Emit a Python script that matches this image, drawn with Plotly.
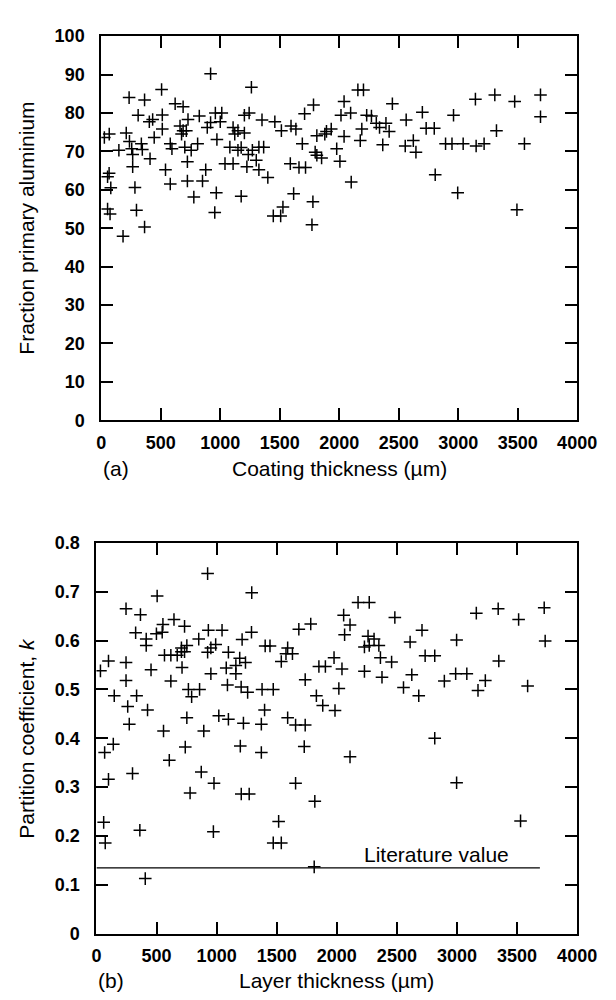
import plotly.graph_objects as go

# ---------------- Data (a): fraction primary aluminium vs coating thickness
coat_x = [919, 1262, 507, 234, 364, 621, 688, 1784, 1709, 310, 513, 824, 959, 1013, 1243, 1203,
          1351, 1459, 1595, 1636, 1514, 404, 432, 729, 891, 919, 1000, 1108, 1149, 1203, 1122,
          662, 688, 715, 675, 513, 26, 67, 210, 445, 237, 337, 580, 702, 810, 972, 1081, 1176,
          1270, 1325, 1365, 1690, 1812, 1879, 1798, 148,
          256, 345, 410, 264, 66, 53, 80, 264, 283, 53, 74, 296, 364, 183, 540, 580, 724, 724,
          778, 878, 851, 967, 954, 1040, 1108, 1224, 1303, 1325, 1400, 1176, 1589, 1662, 1717,
          1617, 1446, 1508, 1527, 1779, 1771, 1812, 594, 756, 1149, 1236,
          1852, 2006, 2101, 2645, 2807, 2996, 3494,
          2157, 2204, 2041, 2447, 3145, 3308, 3475, 3692, 3692, 2015, 2096, 2231, 2271, 2563,
          2699, 2961, 3322, 2312, 2393, 2339, 2420, 2190, 1893, 1933, 2041, 2177, 2366, 2555,
          2623, 2731, 2799, 2894, 2948, 3042, 3151, 3218, 3557, 1979]
frac_y = [90.2, 86.7, 86.1, 84.0, 83.4, 82.4, 81.6, 82.1, 79.8, 79.4, 79.5, 79.2, 80.0, 80.0, 80.0, 79.4,
          78.2, 77.7, 76.6, 75.8, 75.4, 77.7, 78.3, 78.3, 76.2, 77.5, 77.7, 76.2, 75.4, 74.8, 74.5,
          76.6, 75.4, 75.4, 74.5, 75.8, 73.6, 74.5, 74.8, 73.6, 72.6, 72.0, 72.0, 71.1, 72.0, 73.1, 71.1, 71.0,
          70.3, 71.1, 71.1, 72.0, 74.1, 74.5, 69.8, 70.3,
          70.7, 70.5, 68.1, 69.2, 64.3, 63.4, 60.5, 66.0, 60.6, 55.0, 53.7, 54.7, 50.3, 47.9, 65.2, 61.5, 67.3, 62.3,
          58.1, 65.2, 62.3, 59.2, 54.1, 66.8, 66.8, 66.0, 67.7, 65.2, 63.2, 58.3, 66.8, 65.8, 65.8,
          59.0, 53.2, 53.2, 55.5, 56.9, 50.9, 69.0, 70.7, 70.3, 70.3, 69.2,
          68.3, 67.4, 62.0, 69.8, 63.9, 59.2, 54.8,
          86.0, 86.0, 83.0, 82.4, 83.6, 84.7, 83.0, 84.7, 79.0, 79.4, 80.0, 79.4, 79.2, 78.2,
          80.2, 79.4, 75.4, 77.3, 77.3, 76.2, 75.2, 75.8, 75.2, 75.8, 73.9, 72.8, 71.7, 71.4,
          72.8, 76.0, 76.0, 72.0, 72.0, 72.0, 71.4, 72.0, 72.0, 70.7]

# ---------------- Data (b): partition coefficient vs layer thickness
layer_x = [925, 1292, 505, 246, 366, 645, 553, 733, 326, 499, 547, 414, 414, 851, 931, 1045, 1212, 1290,
           992, 952, 925, 707, 752, 707, 733, 566, 619, 672, 1404, 1444, 1098, 1192, 1240, 1160, 1591,
           1577, 1631, 1538, 1684, 1783, 100, 33, 246, 454, 712, 1080, 1160, 952, 619, 246, 1090, 1204,
           1258, 1378, 1471, 1737, 765, 858, 792, 148, 334, 260, 425, 1399, 1830, 1883, 1905, 1851,
           273, 752, 1018, 1098, 1223, 1372, 1591, 1657, 1737, 558, 893, 140, 68, 739, 606, 1197, 1372,
           1729, 300, 100, 872, 978, 779, 1205, 1271, 1657, 1817, 60, 73, 361, 973, 1516, 1471, 1538,
           406, 1812,
           2177, 2270, 2057, 2110, 2065, 2483, 3161, 3343, 3513, 3726, 3734, 2709, 2260, 2310, 2350,
           2230, 2270, 2610, 2997, 2363, 2456, 2735, 2815, 3348, 1977, 2043, 2230, 2376, 2624, 2989,
           3082, 2895, 3236, 2017, 2555, 2682, 3175, 3588, 1985, 2815, 2110, 2997, 3529]
k_y = [0.737, 0.698, 0.691, 0.665, 0.653, 0.643, 0.633, 0.629, 0.616, 0.614, 0.617, 0.603, 0.590, 0.603,
       0.621, 0.621, 0.602, 0.617, 0.592, 0.585, 0.576, 0.585, 0.590, 0.577, 0.577, 0.570, 0.570, 0.570,
       0.589, 0.589, 0.576, 0.564, 0.555, 0.549, 0.585, 0.573, 0.573, 0.557, 0.623, 0.634, 0.558, 0.538,
       0.555, 0.540, 0.545, 0.544, 0.532, 0.532, 0.517, 0.518, 0.509, 0.505, 0.494, 0.500, 0.500, 0.520,
       0.500, 0.500, 0.485, 0.487, 0.487, 0.465, 0.458, 0.458, 0.487, 0.467, 0.547, 0.547,
       0.429, 0.442, 0.446, 0.439, 0.431, 0.429, 0.442, 0.427, 0.427, 0.415, 0.415, 0.388, 0.371, 0.382,
       0.355, 0.384, 0.371, 0.383, 0.328, 0.316, 0.331, 0.308, 0.288, 0.286, 0.286, 0.308, 0.271, 0.228,
       0.186, 0.212, 0.209, 0.230, 0.186, 0.186,
       0.113, 0.137,
       0.678, 0.678, 0.652, 0.632, 0.612, 0.647, 0.656, 0.665, 0.643, 0.667, 0.599, 0.621, 0.609, 0.603,
       0.590, 0.587, 0.590, 0.597, 0.601, 0.565, 0.556, 0.569, 0.569, 0.558, 0.565, 0.542, 0.537, 0.525,
       0.530, 0.532, 0.532, 0.517, 0.518, 0.502, 0.504, 0.487, 0.498, 0.507, 0.457, 0.400, 0.362, 0.309,
       0.231]

# literature value line
lit_x = [0, 3690]
lit_k = [0.135, 0.135]

x_ticks = [0, 500, 1000, 1500, 2000, 2500, 3000, 3500, 4000]
frac_ticks = [0, 10, 20, 30, 40, 50, 60, 70, 80, 90, 100]
k_ticks = [0, 0.1, 0.2, 0.3, 0.4, 0.5, 0.6, 0.7, 0.8]
k_tick_text = ["0", "0.1", "0.2", "0.3", "0.4", "0.5", "0.6", "0.7", "0.8"]

FONT = "Liberation Sans, Arial, sans-serif"
marker = dict(symbol="cross-thin", size=9, line=dict(width=1.5, color="black"), color="black")

fig = go.Figure()
fig.add_trace(go.Scatter(x=coat_x, y=frac_y, mode="markers", marker=marker,
                         xaxis="x", yaxis="y", showlegend=False))
fig.add_trace(go.Scatter(x=layer_x, y=k_y, mode="markers", marker=marker,
                         xaxis="x2", yaxis="y2", showlegend=False))
fig.add_trace(go.Scatter(x=lit_x, y=lit_k, mode="lines", line=dict(color="black", width=1.2),
                         xaxis="x2", yaxis="y2", showlegend=False))

W, H = 616, 1000
top_x0, top_x1 = 92 / W, 588 / W
bot_x0, bot_x1 = 87 / W, 588 / W
top_y0, top_y1 = 1 - 410.5 / H, 1 - 18.5 / H
bot_y0, bot_y1 = 1 - 934.5 / H, 1 - 535.5 / H

tick_font = dict(family=FONT, size=18, color="black", weight="bold")
axis_common = dict(showline=True, linewidth=2, linecolor="black", mirror="ticks",
                   ticks="inside", ticklen=12, tickwidth=1.6, tickcolor="black",
                   showgrid=False, zeroline=False, tickfont=tick_font)

fig.update_layout(
    width=W, height=H, autosize=False,
    margin=dict(l=0, r=0, t=0, b=0),
    paper_bgcolor="white", plot_bgcolor="white",
    font=dict(family=FONT, size=18, color="black"),
    xaxis=dict(domain=[top_x0, top_x1], range=[0, 4000], tickvals=x_ticks,
               anchor="y", ticklabelstandoff=5, **axis_common),
    yaxis=dict(domain=[top_y0, top_y1], range=[0, 100], tickvals=frac_ticks,
               anchor="x", ticklabelstandoff=11, **axis_common),
    xaxis2=dict(domain=[bot_x0, bot_x1], range=[0, 4000], tickvals=x_ticks,
                anchor="y2", ticklabelstandoff=5, **axis_common),
    yaxis2=dict(domain=[bot_y0, bot_y1], range=[0, 0.8], tickvals=k_ticks, ticktext=k_tick_text,
                anchor="x2", ticklabelstandoff=11, **axis_common),
)

ann_font = dict(family=FONT, size=21, color="black")
annotations = [
    dict(text="Coating thickness (µm)", x=(top_x0 + top_x1) / 2, y=1 - 460 / H,
         xref="paper", yref="paper", showarrow=False, font=ann_font, yanchor="middle"),
    dict(text="(a)", x=top_x0, y=1 - 460 / H, xref="paper", yref="paper",
         showarrow=False, font=ann_font, yanchor="middle"),
    dict(text="Fraction primary aluminium", x=14 / W, y=(top_y0 + top_y1) / 2,
         xref="paper", yref="paper", showarrow=False, font=ann_font, textangle=-90,
         xanchor="center", yanchor="middle"),
    dict(text="Layer thickness (µm)", x=(bot_x0 + bot_x1) / 2, y=1 - 982 / H,
         xref="paper", yref="paper", showarrow=False, font=ann_font, yanchor="middle"),
    dict(text="(b)", x=bot_x0, y=1 - 982 / H, xref="paper", yref="paper",
         showarrow=False, font=ann_font, yanchor="middle"),
    dict(text="Partition coefficient, <i>k</i>", x=14 / W, y=(bot_y0 + bot_y1) / 2,
         xref="paper", yref="paper", showarrow=False, font=ann_font, textangle=-90,
         xanchor="center", yanchor="middle"),
    dict(text="Literature value", x=2826, y=0.162, xref="x2", yref="y2",
         showarrow=False, font=ann_font, yanchor="middle"),
]
fig.update_layout(annotations=annotations)

fig.write_html("out.html")
